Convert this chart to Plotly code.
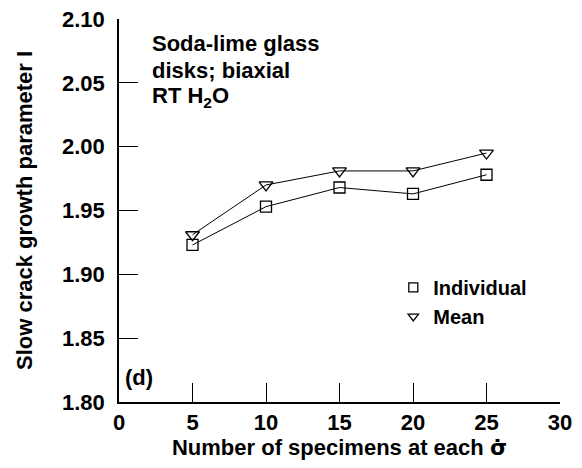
import plotly.graph_objects as go

n_specimens = [5, 10, 15, 20, 25]
individual = [1.923, 1.953, 1.968, 1.963, 1.978]
mean = [1.931, 1.970, 1.981, 1.981, 1.995]
x_ticks = [0, 5, 10, 15, 20, 25, 30]
y_ticks = [1.80, 1.85, 1.90, 1.95, 2.00, 2.05, 2.10]
note_lines = ["Soda-lime glass", "disks; biaxial", "RT H<sub>2</sub>O"]

FONT = "Liberation Sans"
FS = 22
fig = go.Figure()
fig.add_trace(go.Scatter(x=n_specimens, y=individual, mode="lines+markers",
                         line=dict(color="black", width=1),
                         marker=dict(symbol="square-open", size=11, color="black", line=dict(width=1.3)),
                         showlegend=False))
fig.add_trace(go.Scatter(x=n_specimens, y=mean, mode="lines+markers",
                         line=dict(color="black", width=1),
                         marker=dict(symbol="triangle-down-open", size=12, color="black", line=dict(width=1.3)),
                         showlegend=False))
fig.add_trace(go.Scatter(x=[None], y=[None], mode="markers", name="Individual",
                         marker=dict(symbol="square-open", size=9, color="black", line=dict(width=1.3))))
fig.add_trace(go.Scatter(x=[None], y=[None], mode="markers", name="Mean",
                         marker=dict(symbol="triangle-down-open", size=9, color="black", line=dict(width=1.3))))

for i, line in enumerate(note_lines):
    fig.add_annotation(x=0.07, y=0.935 - 0.069 * i, xref="paper", yref="paper",
                       xanchor="left", yanchor="middle", align="left", showarrow=False,
                       text=line, font=dict(family=FONT, size=FS, color="black", weight="bold"))
fig.add_annotation(x=0.008, y=0.025, xref="paper", yref="paper", xanchor="left", yanchor="bottom",
                   showarrow=False, text="(d)",
                   font=dict(family=FONT, size=FS, color="black", weight="bold"))

axis_common = dict(showgrid=False, zeroline=False, showline=True, linecolor="black", linewidth=1.5,
                   ticks="inside", ticklen=19, tickwidth=1.2, tickcolor="black",
                   tickfont=dict(family=FONT, size=FS, color="black", weight="bold"),
                   mirror=False, automargin=False, ticklabeloverflow="allow")
fig.update_xaxes(range=[0, 30], tickvals=x_ticks, ticktext=[str(v) for v in x_ticks],
                 ticklabelstandoff=0,
                 title=dict(text="Number of specimens at each <span style=\"font-family:'DejaVu Sans'\">σ̇</span>",
                            standoff=0,
                            font=dict(family=FONT, size=FS, color="black", weight="bold")),
                 **axis_common)
fig.update_yaxes(range=[1.80, 2.10], tickvals=y_ticks, ticktext=[f"{v:.2f}" for v in y_ticks],
                 ticklabelstandoff=8,
                 title=dict(text="Slow crack growth parameter I", standoff=23,
                            font=dict(family=FONT, size=FS, color="black", weight="bold")),
                 **axis_common)

# page body has an 8px default margin, so the figure is shrunk by 8px to fit the window
fig.update_layout(width=574, height=460, paper_bgcolor="white", plot_bgcolor="white",
                  margin=dict(l=111, r=22, t=11, b=66),
                  legend=dict(x=0.622, y=0.35, xanchor="left", yanchor="top",
                              bgcolor="rgba(0,0,0,0)", tracegroupgap=0, itemwidth=30,
                              font=dict(family=FONT, size=20, color="black", weight="bold")))
fig.write_html("out.html")
